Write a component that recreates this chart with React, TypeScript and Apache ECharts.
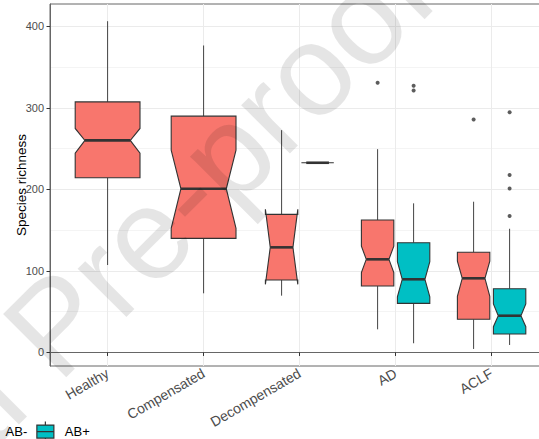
import React, { useEffect, useRef } from 'react';
import * as echarts from 'echarts';

const categories = ['Healthy', 'Compensated', 'Decompensated', 'AD', 'ACLF'];
const groupNames = ['AB-', 'AB+'];
const groupColors = ['#F8766D', '#00BFC4'];
const yTicks = [0, 100, 200, 300, 400];
const yMinorTicks = [50, 150, 250, 350];

// per category: [whiskerLow, Q1, notchLow, median, notchHigh, Q3, whiskerHigh]; null = group absent
const abNegStats: (number[] | null)[] = [
  [107.3, 214.4, 244.6, 260.2, 274.9, 307.5, 406.5],
  [72.6, 140, 152.3, 200.9, 248.3, 290, 376.7],
  [69.7, 89, 83.6, 129, 175.6, 169.5, 272.8],
  [28.4, 81.5, 98, 114.3, 130.5, 162.5, 249.5],
  [4.3, 40.7, 69, 91, 112, 122.9, 185],
];
const abPosStats: (number[] | null)[] = [
  null,
  null,
  [232.8, 232.8, 232.8, 232.8, 232.8, 232.8, 232.8],
  [11.3, 60.3, 68.4, 89.8, 111.4, 134.6, 183],
  [9.2, 22.7, 31.6, 45.1, 59.5, 78.2, 151.8],
];
const abNegOutliers: number[][] = [[], [], [], [330.9], [286]];
const abPosOutliers: number[][] = [[], [], [], [327.2, 321.5], [294.8, 217.7, 201.3, 167.4]];

const allStats = [abNegStats, abPosStats];
const allOutliers = [abNegOutliers, abPosOutliers];

const legendIcon =
  'path://M8.5,0 L8.5,3.5 M0,3.5 L17,3.5 L17,16.5 L0,16.5 Z M0,10 L17,10 M8.5,16.5 L8.5,20';

function placement(catIdx: number, g: number) {
  const both = abNegStats[catIdx] && abPosStats[catIdx];
  const center = catIdx + 1 + (both ? (g === 0 ? -0.1875 : 0.1875) : 0);
  const half = both ? 0.16875 : 0.3375;
  return { center, half };
}

export default function App() {
  const ref = useRef<HTMLDivElement>(null);
  useEffect(() => {
    document.body.style.margin = '0';
    document.body.style.overflow = 'hidden';
    const chart = echarts.init(ref.current!, undefined, { renderer: 'svg' });

    const boxSeries = groupNames.map((name, g) => {
      const data: number[][] = [];
      allStats[g].forEach((s, i) => {
        if (!s) return;
        const { center, half } = placement(i, g);
        data.push([center, half, ...s]);
      });
      return {
        type: 'custom',
        name,
        z: 3,
        itemStyle: { color: groupColors[g], borderColor: '#333333', borderWidth: 1 },
        encode: { x: 0, y: [2, 3, 4, 5, 6, 7, 8] },
        data,
        renderItem: (params: any, api: any) => {
          const x = api.value(0);
          const hw = api.value(1);
          const low = api.value(2), q1 = api.value(3), nl = api.value(4), med = api.value(5),
            nu = api.value(6), q3 = api.value(7), high = api.value(8);
          const xl = x - hw, xr = x + hw, inset = hw * 2 * 0.15;
          const p = (a: number, b: number) => api.coord([a, b]);
          const stroke = '#333333';
          return {
            type: 'group',
            children: [
              { type: 'line', shape: { x1: p(x, q3)[0], y1: p(x, q3)[1], x2: p(x, high)[0], y2: p(x, high)[1] }, style: { stroke: '#444444', lineWidth: 1 } },
              { type: 'line', shape: { x1: p(x, q1)[0], y1: p(x, q1)[1], x2: p(x, low)[0], y2: p(x, low)[1] }, style: { stroke: '#444444', lineWidth: 1 } },
              {
                type: 'polygon',
                shape: {
                  points: [p(xl, q3), p(xl, nu), p(xl + inset, med), p(xl, nl), p(xl, q1), p(xr, q1), p(xr, nl), p(xr - inset, med), p(xr, nu), p(xr, q3)],
                },
                style: { fill: groupColors[g], stroke, lineWidth: 1.1 },
              },
              { type: 'line', shape: { x1: p(xl + inset, med)[0], y1: p(xl + inset, med)[1], x2: p(xr - inset, med)[0], y2: p(xr - inset, med)[1] }, style: { stroke, lineWidth: 2.6 } },
            ],
          };
        },
      };
    });

    const outlierSeries = groupNames.map((name, g) => {
      const data: number[][] = [];
      allOutliers[g].forEach((vals, i) => {
        const { center } = placement(i, g);
        vals.forEach((v) => data.push([center, v]));
      });
      return {
        type: 'scatter',
        name: name + ' outliers',
        z: 4,
        symbolSize: 4,
        itemStyle: { color: '#333333' },
        data,
      };
    });

    const gridSeries = {
      type: 'line',
      name: 'grid',
      z: 0,
      data: [],
      silent: true,
      markLine: {
        silent: true,
        z: 0,
        symbol: ['none', 'none'],
        label: { show: false },
        animation: false,
        data: [
          ...yMinorTicks.map((v) => ({ yAxis: v, lineStyle: { color: '#F4F4F4', width: 1, type: 'solid' } })),
          ...yTicks.map((v) => ({ yAxis: v, lineStyle: { color: '#EBEBEB', width: 1, type: 'solid' } })),
          ...categories.map((_, i) => ({ xAxis: i + 1, lineStyle: { color: '#EBEBEB', width: 1, type: 'solid' } })),
        ],
      },
    };

    const font = 'Liberation Sans, Arial, sans-serif';
    const wmSize = 130;
    const wmStyle = {
      fontSize: wmSize,
      fontFamily: font,
      fill: 'rgba(0,0,0,0.1)',
      textVerticalAlign: 'middle',
      verticalAlign: 'middle',
    };
    const wmX = 27;
    const wmY = 353;

    chart.setOption({
      animation: false,
      backgroundColor: '#ffffff',
      grid: {
        left: 50,
        top: 4,
        right: 0.8,
        bottom: 73,
        show: true,
        outerBoundsMode: 'none',
        containLabel: false,
        borderColor: '#666666',
        borderWidth: 1,
        backgroundColor: '#ffffff',
      },
      xAxis: {
        type: 'value',
        min: 0.4,
        max: 5.6,
        splitLine: { show: false },
        axisLine: { show: true, lineStyle: { color: '#666666' } },
        axisTick: { show: true, customValues: [1, 2, 3, 4, 5], length: 3.5, lineStyle: { color: '#333333' } },
        axisLabel: {
          customValues: [1, 2, 3, 4, 5],
          formatter: (v: number) => categories[Math.round(v) - 1] ?? '',
          rotate: 30,
          fontSize: 14,
          color: '#4D4D4D',
          fontFamily: font,
          margin: 6,
        },
      },
      yAxis: {
        type: 'value',
        min: -16.6,
        max: 427.6,
        name: 'Species richness',
        nameLocation: 'middle',
        nameGap: 22,
        nameMoveOverlap: false,
        nameTextStyle: { fontSize: 13.5, color: '#000000', fontFamily: font },
        splitLine: { show: false },
        axisLine: { show: true, lineStyle: { color: '#666666' } },
        axisTick: { show: true, customValues: yTicks, length: 3.5, lineStyle: { color: '#333333' } },
        axisLabel: { customValues: yTicks, fontSize: 11, color: '#4D4D4D', fontFamily: font, margin: 6 },
      },
      legend: {
        left: -23,
        top: 421,
        padding: 0,
        itemWidth: 17,
        itemHeight: 20,
        itemGap: 9,
        selectedMode: false,
        textStyle: { fontSize: 13, color: '#000000', fontFamily: font, padding: [0, 0, 0, 6] },
        data: groupNames.map((n, g) => ({
          name: n,
          icon: legendIcon,
          itemStyle: { color: groupColors[g], borderColor: '#333333', borderWidth: 1.2 },
        })),
      },
      graphic: [
        {
          type: 'text',
          x: wmX,
          y: wmY,
          rotation: Math.PI / 4,
          silent: true,
          z: 100,
          style: { ...wmStyle, text: 'Pre-proof', textAlign: 'left', align: 'left' },
        },
        {
          type: 'text',
          x: wmX,
          y: wmY,
          rotation: Math.PI / 4,
          silent: true,
          z: 100,
          style: { ...wmStyle, text: 'Journal ', textAlign: 'right', align: 'right' },
        },
      ],
      series: [gridSeries, ...boxSeries, ...outlierSeries],
    });
    return () => chart.dispose();
  }, []);
  return <div ref={ref} style={{ width: 550, height: 439 }} />;
}
